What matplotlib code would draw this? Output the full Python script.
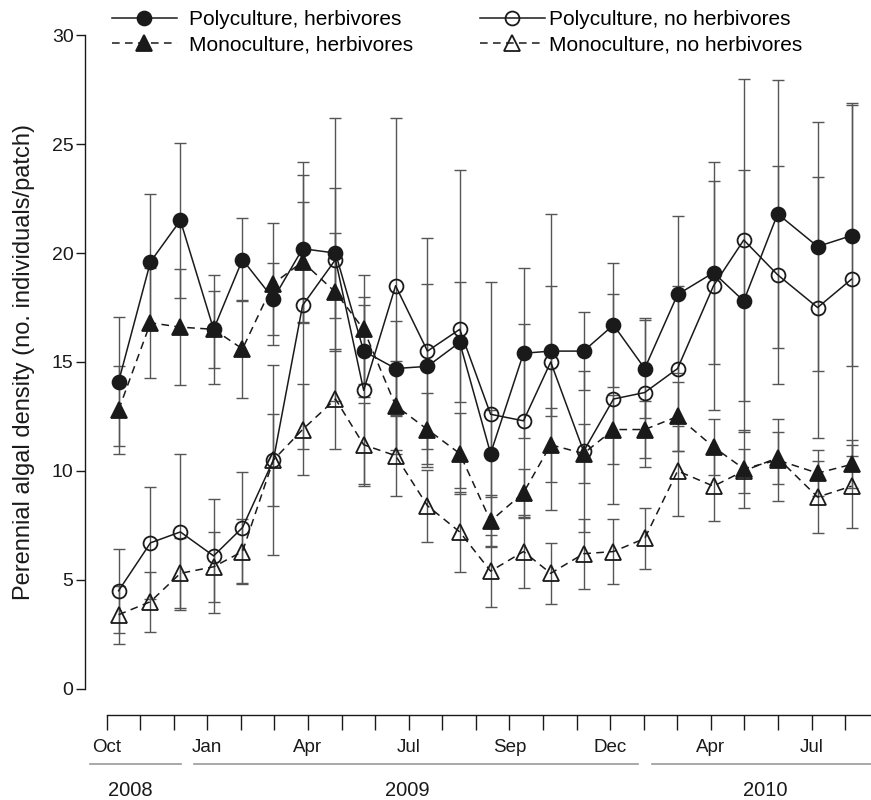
import matplotlib.pyplot as plt
import matplotlib.transforms as mtransforms

# Fuente parecida a Helvetica
plt.rcParams['font.family'] = ['Liberation Sans', 'DejaVu Sans']

# Posiciones de muestreo (en unidades de marca del eje x, Oct 2008 = 0)
muestreo = [0.36, 1.31, 2.20, 3.19, 4.05, 4.97, 5.84, 6.82, 7.66, 8.61, 9.56, 10.52,
            11.44, 12.42, 13.23, 14.21, 15.10, 16.03, 17.01, 18.08, 18.98, 19.99, 21.18, 22.19]

# Policultivo con herbivoros
poli_herb = [14.1, 19.6, 21.5, 16.5, 19.7, 17.9, 20.2, 20.0, 15.5, 14.7, 14.8, 15.9,
             10.8, 15.4, 15.5, 15.5, 16.7, 14.7, 18.1, 19.1, 17.8, 21.8, 20.3, 20.8]
poli_herb_ee = [2.95, 3.1, 3.55, 2.5, 1.9, 1.65, 3.4, 3.0, 2.1, 2.2, 3.8, 2.75,
                2.0, 3.9, 3.0, 1.8, 2.85, 2.25, 3.6, 4.2, 6.0, 6.15, 5.7, 6.0]

# Policultivo sin herbivoros
poli_sin = [4.5, 6.7, 7.2, 6.1, 7.4, 10.5, 17.6, 19.7, 13.7, 18.5, 15.5, 16.5,
            12.6, 12.3, 15.0, 10.9, 13.3, 13.6, 14.7, 18.5, 20.6, 19.0, 17.5, 18.8]
poli_sin_ee = [1.92, 2.57, 3.58, 2.6, 2.55, 4.35, 6.6, 6.5, 4.3, 7.7, 5.2, 7.3,
               6.05, 4.45, 6.8, 3.7, 4.8, 3.4, 3.8, 5.7, 7.4, 5.0, 6.0, 8.1]

# Monocultivo con herbivoros
mono_herb = [12.8, 16.8, 16.6, 16.5, 15.6, 18.6, 19.6, 18.2, 16.5, 13.0, 11.9, 10.8,
             7.7, 9.0, 11.2, 10.8, 11.9, 11.9, 12.5, 11.1, 10.1, 10.5, 9.9, 10.3]
mono_herb_ee = [2.0, 2.53, 2.65, 1.76, 2.25, 2.8, 2.75, 2.7, 2.5, 2.05, 1.7, 1.85,
                1.2, 1.1, 1.7, 1.35, 1.6, 1.3, 1.6, 1.3, 1.8, 1.9, 1.06, 1.1]

# Monocultivo sin herbivoros
mono_sin = [3.4, 4.0, 5.3, 5.6, 6.3, 10.5, 11.9, 13.3, 11.2, 10.7, 8.4, 7.2,
            5.4, 6.3, 5.3, 6.2, 6.3, 6.9, 10.0, 9.3, 10.0, 10.6, 8.8, 9.3]
mono_sin_ee = [1.34, 1.38, 1.6, 1.6, 1.5, 2.1, 2.1, 2.3, 1.9, 1.85, 1.65, 1.83,
               1.64, 1.67, 1.4, 1.6, 1.5, 1.4, 2.06, 1.6, 1.0, 1.2, 1.65, 1.9]

# Etiquetas del eje x (23 marcas)
meses = ['Oct', '', '', 'Jan', '', '', 'Apr', '', '', 'Jul', '', '', 'Sep', '', '',
         'Dec', '', '', 'Apr', '', '', 'Jul', '']
anios = ['2008', '2009', '2010']
anio_inicio = [-0.48, 2.62, 16.25]
anio_fin = [2.23, 15.83, 22.77]
anio_centro = [0.70, 8.96, 19.63]

negro = '#1a1a1a'
gris = '#555555'
discontinua = (0, (5, 3.5))

fig = plt.figure(figsize=(8.71, 8.0), dpi=100)
ax = fig.add_axes([0.098, 0.139, 0.902, 0.817])

series = [
    (poli_herb, poli_herb_ee, 'o', negro, '-', 10, 'Polyculture, herbivores'),
    (mono_herb, mono_herb_ee, '^', negro, discontinua, 11, 'Monoculture, herbivores'),
    (poli_sin, poli_sin_ee, 'o', 'none', '-', 10, 'Polyculture, no herbivores'),
    (mono_sin, mono_sin_ee, '^', 'none', discontinua, 11, 'Monoculture, no herbivores'),
]

manijas = []
for valores, ee, marcador, relleno, estilo, tam, etiqueta in series:
    ax.errorbar(muestreo, valores, yerr=ee, fmt='none', ecolor=gris, elinewidth=1.0,
                capsize=4.3, capthick=1.0, zorder=1, clip_on=False)
    linea, = ax.plot(muestreo, valores, color=negro, lw=1.1, linestyle=estilo,
                     marker=marcador, markersize=tam, markerfacecolor=relleno,
                     markeredgecolor=negro, markeredgewidth=1.3, zorder=3,
                     label=etiqueta, clip_on=False)
    manijas.append(linea)

ax.set_xlim(-0.63, 22.77)
ax.set_ylim(0, 30)
ax.set_yticks([0, 5, 10, 15, 20, 25, 30])
ax.set_xticks(range(len(meses)))
ax.set_xticklabels(meses)

for lado in ['top', 'right']:
    ax.spines[lado].set_visible(False)
ax.spines['left'].set_bounds(0, 30)
ax.spines['bottom'].set_bounds(0, 22.77)
ax.spines['bottom'].set_position(('outward', 18.7))
for lado in ['left', 'bottom']:
    ax.spines[lado].set_linewidth(1.0)
    ax.spines[lado].set_color(negro)

ax.tick_params(axis='y', direction='out', length=6.5, width=1.0, labelsize=14,
               colors=negro, pad=2)
ax.tick_params(axis='x', direction='out', length=10.8, width=1.0, labelsize=13.5,
               colors=negro, pad=7)

ax.set_ylabel('Perennial algal density (no. individuals/patch)', fontsize=17,
              color=negro, labelpad=12)

# Lineas y etiquetas de los anios bajo el eje x
trans = mtransforms.blended_transform_factory(ax.transData, ax.transAxes)
for anio, ini, fin, centro in zip(anios, anio_inicio, anio_fin, anio_centro):
    ax.plot([ini, fin], [-0.1147, -0.1147], color='#9a9a9a', lw=1.2,
            transform=trans, clip_on=False)
    ax.text(centro, -0.155, anio, transform=trans, ha='center', va='center',
            fontsize=14.5, color=negro)

# Leyenda en dos columnas separadas
fig.legend(handles=manijas[:2], loc='upper left', bbox_to_anchor=(0.1286, 0.987),
           frameon=False, fontsize=15, handlelength=3.1, handletextpad=0.6,
           labelspacing=0.3, borderpad=0, borderaxespad=0)
fig.legend(handles=manijas[2:], loc='upper left', bbox_to_anchor=(0.551, 0.987),
           frameon=False, fontsize=15, handlelength=3.1, handletextpad=0.2,
           labelspacing=0.3, borderpad=0, borderaxespad=0)

plt.savefig('out.png', dpi=100)
plt.close()
